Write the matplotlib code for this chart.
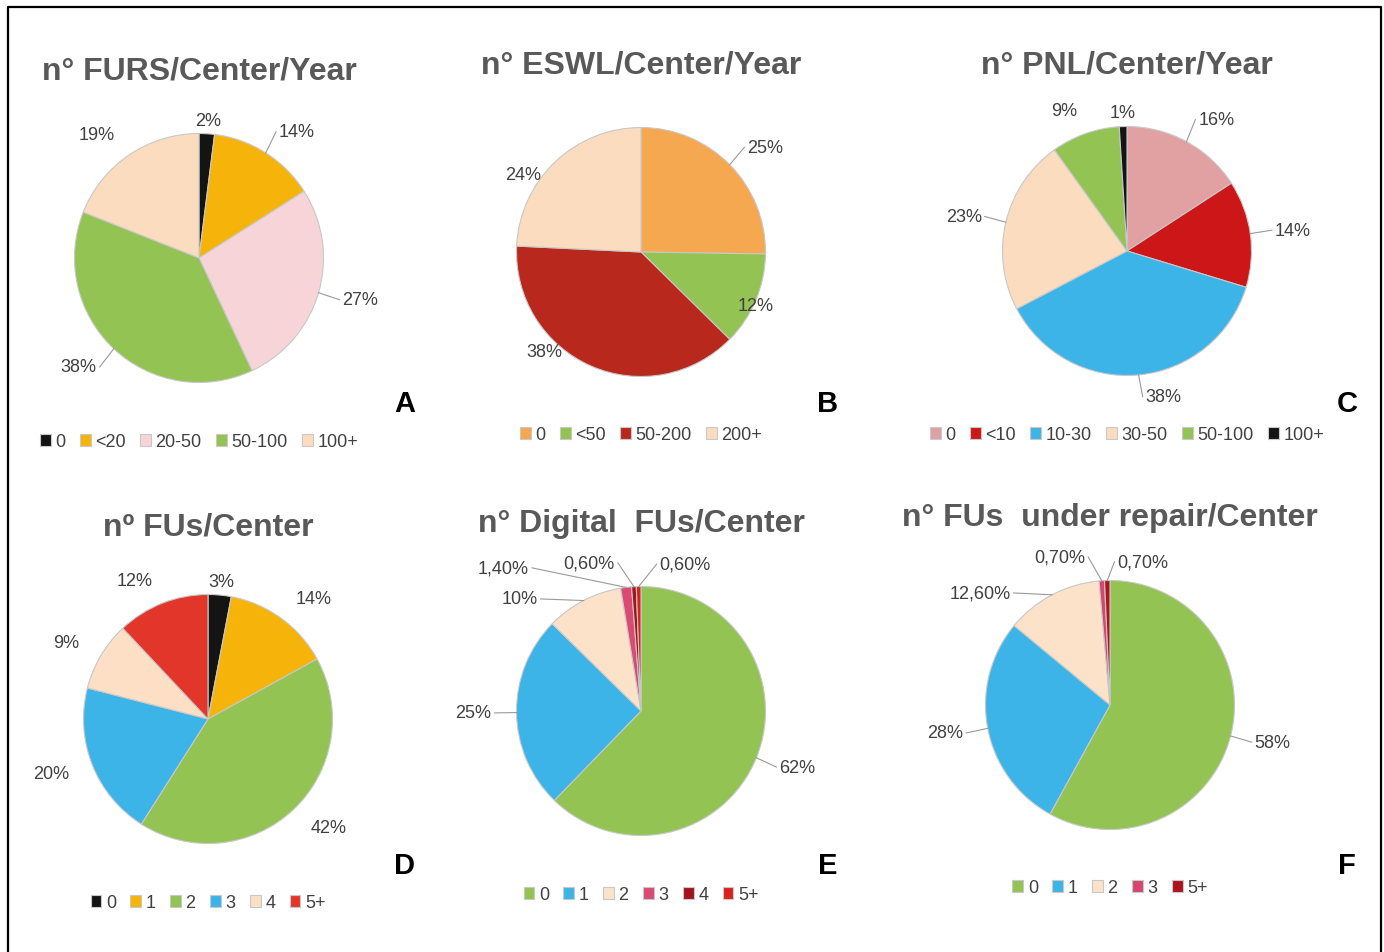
import numpy as np
import matplotlib
matplotlib.use("Agg")
import matplotlib.pyplot as plt

plt.rcParams['font.family'] = ['Liberation Sans', 'DejaVu Sans']

W, H = 1384, 953

# ---- data (clockwise from 12 o'clock, as in the original Excel charts)
a_title = 'n° FURS/Center/Year'
a_labels = ['0', '<20', '20-50', '50-100', '100+']
a_values = [2, 14, 27, 38, 19]
a_text = ['2%', '14%', '27%', '38%', '19%']

b_title = 'n° ESWL/Center/Year'
b_labels = ['0', '<50', '50-200', '200+']
b_values = [25, 12, 38, 24]
b_text = ['25%', '12%', '38%', '24%']

c_title = 'n° PNL/Center/Year'
c_labels = ['0', '<10', '10-30', '30-50', '50-100', '100+']
c_values = [16, 14, 38, 23, 9, 1]
c_text = ['16%', '14%', '38%', '23%', '9%', '1%']

d_title = 'nº FUs/Center'
d_labels = ['0', '1', '2', '3', '4', '5+']
d_values = [3, 14, 42, 20, 9, 12]
d_text = ['3%', '14%', '42%', '20%', '9%', '12%']

e_title = 'n° Digital  FUs/Center'
e_labels = ['0', '1', '2', '3', '4', '5+']
e_values = [62, 25, 10, 1.4, 0.6, 0.6]
e_text = ['62%', '25%', '10%', '1,40%', '0,60%', '0,60%']

f_title = 'n° FUs  under repair/Center'
f_labels = ['0', '1', '2', '3', '5+']
f_values = [58, 28, 12.6, 0.7, 0.7]
f_text = ['58%', '28%', '12,60%', '0,70%', '0,70%']

# colours
BLK = '#141414'
GOLD = '#f6b40a'
GREEN = '#93c352'
BLUE = '#3db4e8'
PEACH = '#fbdcbf'

panels = [
    dict(title=a_title, labels=a_labels, values=a_values, text=a_text,
         colors=[BLK, GOLD, '#f7d4d7', GREEN, PEACH],
         c=(199, 259), ty=72, ly=443, ltr=('A', 405, 404), lead={1, 2, 3}, over={}),
    dict(title=b_title, labels=b_labels, values=b_values, text=b_text,
         colors=['#f6a851', GREEN, '#b9281d', PEACH],
         c=(641, 253), ty=65, ly=436, ltr=('B', 828, 404), lead={0},
         over={1: (0.92, -0.43), 2: (-0.63, -0.8), 3: (-0.8, 0.62)}),
    dict(title=c_title, labels=c_labels, values=c_values, text=c_text,
         colors=['#e1a1a3', '#cc1618', BLUE, PEACH, GREEN, BLK],
         c=(1127, 252), ty=65, ly=436, ltr=('C', 1347, 404), lead={0, 1, 2, 3},
         over={2: (0.15, -1.17)}),
    dict(title=d_title, labels=d_labels, values=d_values, text=d_text,
         colors=[BLK, GOLD, GREEN, BLUE, '#fcdfc4', '#e2362b'],
         c=(208, 720), ty=528, ly=904, ltr=('D', 404, 866), lead=set(), over={}),
    dict(title=e_title, labels=e_labels, values=e_values, text=e_text,
         colors=[GREEN, BLUE, '#fce2c9', '#da4a72', '#a3131b', '#d9211d'],
         c=(641, 712), ty=524, ly=896, ltr=('E', 828, 866), lead={0, 1, 2, 3, 4, 5},
         over={2: (-0.83, 0.9), 3: (-0.9, 1.15), 4: (-0.21, 1.19), 5: (0.15, 1.18)}),
    dict(title=f_title, labels=f_labels, values=f_values, text=f_text,
         colors=[GREEN, BLUE, '#fce2c9', '#d6456e', '#ad141d'],
         c=(1110, 706), ty=518, ly=889, ltr=('F', 1347, 866), lead={0, 1, 2, 3, 4},
         over={2: (-0.8, 0.9), 3: (-0.2, 1.19), 4: (0.06, 1.15)}),
]

R = 124.5
TXT = '#404040'

fig = plt.figure(figsize=(13.84, 9.53), dpi=100)
ax = fig.add_axes([0, 0, 1, 1])

# outer frame
ax.plot([8, 8, 1381, 1381], [-5, H - 8, H - 8, -5], color='black', lw=1.6)

for p in panels:
    cx, cy = p['c'][0], H - p['c'][1]
    wedges, _ = ax.pie(p['values'], colors=p['colors'], startangle=90, counterclock=False,
                       center=(cx, cy), radius=R, frame=True,
                       wedgeprops=dict(edgecolor='#c8c8c8', linewidth=0.8))

    for i, w in enumerate(wedges):
        mid = np.deg2rad((w.theta1 + w.theta2) / 2)
        ex, ey = cx + R * np.cos(mid), cy + R * np.sin(mid)
        if i in p['over']:
            fx, fy = p['over'][i]
            tx, ty = cx + fx * R, cy + fy * R
            ha = 'right' if tx < ex - 5 else ('left' if tx > ex + 5 else 'center')
        else:
            c = np.cos(mid)
            ha = 'left' if c > 0.15 else ('right' if c < -0.15 else 'center')
            rf = 1.2 if ha != 'center' else 1.11
            tx, ty = cx + rf * R * np.cos(mid), cy + rf * R * np.sin(mid)
        ax.text(tx, ty, p['text'][i], ha=ha, va='center', fontsize=13, color=TXT)
        if i in p['lead']:
            if ha == 'center':
                gx, gy = tx, ty - 9
            else:
                gx, gy = (tx - 3 if ha == 'left' else tx + 3), ty
            ax.plot([ex, gx], [ey, gy], color='#9a9a9a', lw=0.8)

    ax.text(cx, H - p['ty'], p['title'], ha='center', va='center', fontsize=23,
            fontweight='bold', color='#595959')
    ltr, lx, lyy = p['ltr']
    ax.text(lx, H - lyy, ltr, ha='center', va='center', fontsize=21,
            fontweight='bold', color='black')

    fig.legend(handles=wedges, labels=p['labels'], loc='center',
               bbox_to_anchor=(cx / W, 1 - p['ly'] / H), ncol=len(wedges), frameon=False,
               fontsize=13, labelcolor=TXT, handlelength=0.6, handleheight=0.6,
               handletextpad=0.25, columnspacing=0.8, borderpad=0)

ax.set_xlim(0, W)
ax.set_ylim(0, H)
ax.set_aspect('equal')
ax.axis('off')

fig.savefig('out.png', dpi=100, facecolor='white')
